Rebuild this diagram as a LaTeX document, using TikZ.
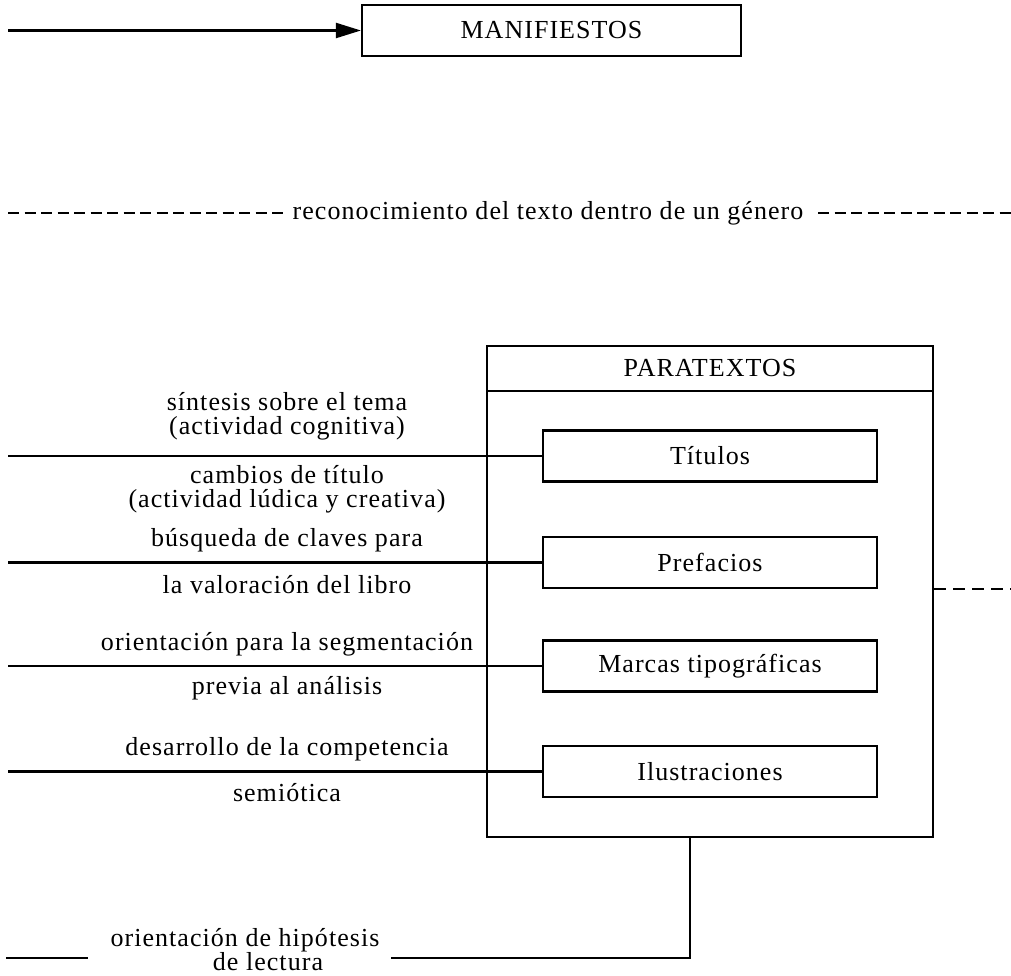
\documentclass[tikz,border=0pt]{standalone}
\usepackage{fontspec}
\setmainfont{Liberation Serif}[LetterSpace=4]
\usetikzlibrary{arrows.meta}
\tikzset{
  ln/.style={line width=2.2pt},
  dsh/.style={line width=1.8pt, dash pattern=on 11pt off 5.5pt},
  dshr/.style={line width=1.8pt, dash pattern=on 12pt off 7pt},
  boxn/.style={draw, line width=2.2pt, minimum width=334pt, minimum height=51pt, inner sep=0pt, font=\fontsize{26}{24}\selectfont},
  lbl/.style={align=center, inner sep=0pt, font=\fontsize{26}{24}\selectfont},
}
\begin{document}
\begin{tikzpicture}[x=1pt,y=-1pt]
\useasboundingbox (0,0) rectangle (1011,976);
% top
\node[draw, line width=2.2pt, minimum width=379pt, minimum height=51pt, inner sep=0pt, font=\fontsize{26}{24}\selectfont] (man) at (551.5,30.5) {MANIFIESTOS};
\coordinate (a0) at (8,30.5);
\draw[ln, -{Triangle[length=25pt,width=15pt]}] (a0) -- (man.west);
% genre line
\node[lbl] (reco) at (548,213) {reconocimiento del texto dentro de un género};
\coordinate (dl0) at (8,213);
\coordinate (dl1) at (287,213);
\coordinate (dr0) at (818,213);
\coordinate (dr1) at (1011,213);
\draw[dsh] (dl0) -- (dl1);
\draw[dsh] (dr0) -- (dr1);
% paratextos
\node[draw, line width=2.2pt, minimum width=446pt, minimum height=491pt, inner sep=0pt] (para) at (710,591.5) {};
\node[lbl] (ptit) at (710,368.5) {PARATEXTOS};
\coordinate (dv0) at (487,391);
\coordinate (dv1) at (933,391);
\draw[ln] (dv0) -- (dv1);
\node[boxn] (tit) at (710,456) {Títulos};
\node[boxn] (pre) at (710,562.5) {Prefacios};
\node[boxn] (mar) at (710,666) {Marcas tipográficas};
\node[boxn] (ilu) at (710,771.5) {Ilustraciones};
% left connectors
\coordinate (l1) at (8,456);
\coordinate (l2) at (8,562.5);
\coordinate (l3) at (8,666);
\coordinate (l4) at (8,771.5);
\draw[ln] (l1) -- (tit.west);
\draw[ln] (l2) -- (pre.west);
\draw[ln] (l3) -- (mar.west);
\draw[ln] (l4) -- (ilu.west);
% labels
\node[lbl] (t1a) at (287,416) {síntesis sobre el tema\\(actividad cognitiva)};
\node[lbl] (t1b) at (287,489) {cambios de título\\(actividad lúdica y creativa)};
\node[lbl] (t2a) at (287,540) {búsqueda de claves para};
\node[lbl] (t2b) at (287,585) {la valoración del libro};
\node[lbl] (t3a) at (287,644) {orientación para la segmentación};
\node[lbl] (t3b) at (287,688) {previa al análisis};
\node[lbl] (t4a) at (287,749) {desarrollo de la competencia};
\node[lbl] (t4b) at (287,793) {semiótica};
% right dashed
\coordinate (rd1) at (1011,589);
\draw[dshr] (para.east |- rd1) -- (rd1);
% bottom
\coordinate (b1) at (690,958);
\coordinate (b2) at (391,958);
\coordinate (b3) at (6,958);
\coordinate (b4) at (88,958);
\draw[ln] (para.south -| b1) -- (b1) -- (b2);
\draw[ln] (b3) -- (b4);
\node[lbl] (h1) at (245,940) {orientación de hipótesis};
\node[lbl] (h2) at (268,962) {de lectura};
\end{tikzpicture}
\end{document}
